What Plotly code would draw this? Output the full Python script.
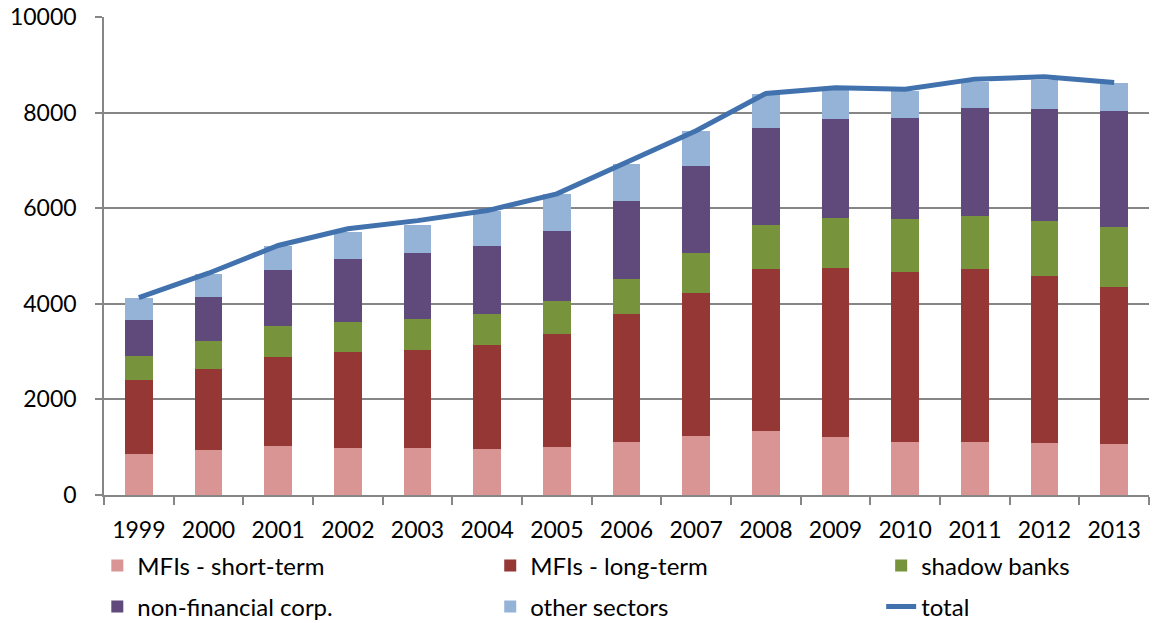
import plotly.graph_objects as go

years = [str(y) for y in range(1999, 2014)]
mfi_short = [853, 950, 1027, 992, 978, 964, 1013, 1104, 1229, 1341, 1216, 1104, 1111, 1097, 1062]
mfi_long = [1543, 1691, 1851, 1998, 2054, 2180, 2355, 2676, 2990, 3381, 3542, 3570, 3612, 3493, 3298]
shadow_banks = [503, 580, 650, 636, 650, 650, 684, 741, 853, 930, 1042, 1105, 1119, 1140, 1257]
non_fin_corp = [769, 929, 1188, 1321, 1390, 1425, 1475, 1627, 1803, 2019, 2075, 2102, 2249, 2354, 2411]
other_sectors = [446, 468, 503, 565, 587, 719, 775, 769, 733, 713, 593, 573, 559, 601, 587]
total = [4130, 4640, 5220, 5570, 5740, 5950, 6300, 6950, 7620, 8400, 8520, 8490, 8700, 8750, 8630]

# (name, values, colour, legend column)
series = [
    ("MFIs - short-term", mfi_short, "#D99594", "legend"),
    ("MFIs - long-term", mfi_long, "#953735", "legend2"),
    ("shadow banks", shadow_banks, "#77933C", "legend3"),
    ("non-financial corp.", non_fin_corp, "#604A7B", "legend"),
    ("other sectors", other_sectors, "#95B3D7", "legend2"),
]

fig = go.Figure()
for name, vals, col, lg in series:
    fig.add_trace(go.Bar(x=years, y=vals, name=name, legend=lg, legendgroup=name,
                         marker=dict(color=col, line=dict(width=0))))
fig.add_trace(go.Scatter(x=years, y=total, name="total", mode="lines", legend="legend3",
                         legendgroup="total", line=dict(color="#4172AE", width=5)))

font = "Lato, 'Open Sans', sans-serif"
leg_common = dict(orientation="v", y=-0.101, yanchor="top", xanchor="left",
                  traceorder="grouped", font=dict(size=24, family=font, color="black"),
                  tracegroupgap=7, bgcolor="rgba(0,0,0,0)")
fig.update_layout(
    barmode="stack",
    bargap=0.6,
    width=1153, height=623,
    margin=dict(l=104, r=4, t=17, b=128, autoexpand=False),
    paper_bgcolor="white", plot_bgcolor="white",
    font=dict(family=font, size=23, color="black"),
    showlegend=True,
    legend=dict(x=-0.0064, **leg_common),
    legend2=dict(x=0.3696, **leg_common),
    legend3=dict(x=0.7437, **leg_common),
)
fig.update_xaxes(type="category", showline=True, linecolor="#868686", linewidth=1.5,
                 ticks="outside", tickson="boundaries", ticklen=8, tickcolor="#868686",
                 tickwidth=1.5, showgrid=False, tickfont=dict(size=23), automargin=False,
                 ticklabelstandoff=14, ticklabeloverflow="allow")
fig.update_yaxes(range=[0, 10000], dtick=2000, tickformat="d", showline=True,
                 linecolor="#868686", linewidth=1.5, ticks="outside", ticklen=7,
                 tickcolor="#868686", tickwidth=1.5, showgrid=True, gridcolor="#868686",
                 gridwidth=1.5, zeroline=False, tickfont=dict(size=23),
                 ticklabelstandoff=14, automargin=False, ticklabeloverflow="allow")

fig.write_html("out.html", config={"displayModeBar": False},
               post_script="document.body.style.margin='0px';")
